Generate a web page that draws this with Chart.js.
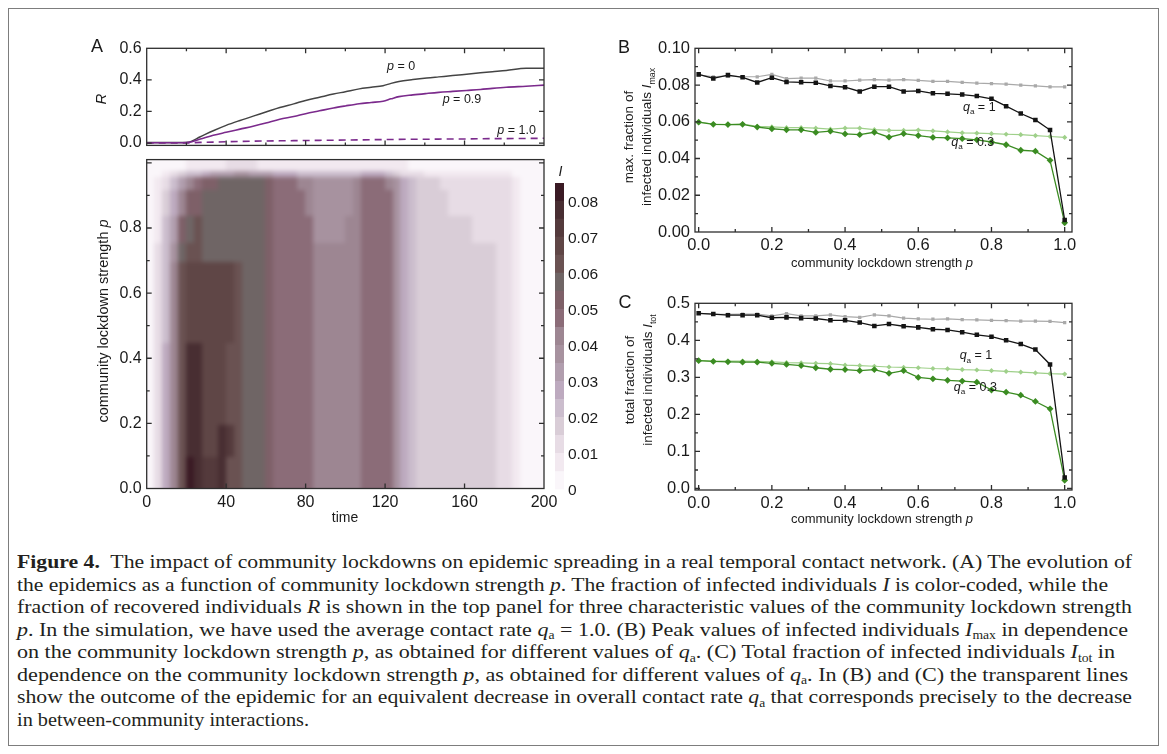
<!DOCTYPE html>
<html><head><meta charset="utf-8">
<script src="https://cdn.jsdelivr.net/npm/chart.js@4.4.1/dist/chart.umd.min.js"></script>
<style>
html,body{margin:0;padding:0;background:#fff;}
body{width:1167px;height:754px;overflow:hidden;position:relative;}
canvas.cv{position:absolute;}
#border{position:absolute;left:8px;top:8px;width:1151px;height:738px;border:1.5px solid #7d7d7d;box-sizing:border-box;}
.cap{position:absolute;left:17px;white-space:nowrap;font-family:"Liberation Serif","Times New Roman",serif;font-size:19px;line-height:22px;color:#231f20;transform-origin:0 50%;}
.cap sub{font-size:0.62em;vertical-align:baseline;position:relative;top:0.3em;line-height:0;}
</style></head><body>
<div id="border"></div>
<canvas id="cR" class="cv"></canvas>
<canvas id="cH" class="cv"></canvas>
<canvas id="cCb" class="cv"></canvas>
<canvas id="cB" class="cv"></canvas>
<canvas id="cC" class="cv"></canvas>
<div class="cap" style="top:551px"><b>Figure 4.</b>&nbsp; The impact of community lockdowns on epidemic spreading in a real temporal contact network. (A) The evolution of</div>
<div class="cap" style="top:573.5px">the epidemics as a function of community lockdown strength <i>p</i>. The fraction of infected individuals <i>I</i> is color-coded, while the</div>
<div class="cap" style="top:596px">fraction of recovered individuals <i>R</i> is shown in the top panel for three characteristic values of the community lockdown strength</div>
<div class="cap" style="top:618.5px"><i>p</i>. In the simulation, we have used the average contact rate <i>q</i><sub>a</sub> = 1.0. (B) Peak values of infected individuals <i>I</i><sub>max</sub> in dependence</div>
<div class="cap" style="top:641px">on the community lockdown strength <i>p</i>, as obtained for different values of <i>q</i><sub>a</sub>. (C) Total fraction of infected individuals <i>I</i><sub>tot</sub> in</div>
<div class="cap" style="top:663.5px">dependence on the community lockdown strength <i>p</i>, as obtained for different values of <i>q</i><sub>a</sub>. In (B) and (C) the transparent lines</div>
<div class="cap" style="top:686px">show the outcome of the epidemic for an equivalent decrease in overall contact rate <i>q</i><sub>a</sub> that corresponds precisely to the decrease</div>
<div class="cap" style="top:708.5px">in between-community interactions.</div>
<script>
// ================= DATA =================
// Panel A (top): recovered fraction R vs time
const timeR  = [0, 10, 18, 21, 27, 33.5, 40, 47, 54, 60, 67, 74, 80, 87, 94, 100, 107, 113, 119, 123, 127, 134, 141, 147, 154, 161, 168, 174, 181, 191, 200];
const R_p0   = [0.003,0.003,0.003,0.005,0.040,0.078,0.112,0.143,0.172,0.196,0.225,0.248,0.270,0.290,0.310,0.325,0.343,0.353,0.363,0.378,0.390,0.402,0.412,0.419,0.427,0.436,0.445,0.452,0.460,0.474,0.474];
const R_p09  = [0.002,0.002,0.002,0.004,0.025,0.049,0.068,0.088,0.108,0.127,0.151,0.168,0.186,0.204,0.222,0.235,0.249,0.257,0.265,0.280,0.294,0.305,0.314,0.321,0.327,0.333,0.339,0.346,0.353,0.360,0.367];
const R_p10  = [0,0,0,0.001,0.004,0.006,0.008,0.010,0.012,0.013,0.014,0.015,0.016,0.017,0.018,0.019,0.020,0.021,0.022,0.022,0.023,0.024,0.024,0.025,0.026,0.026,0.027,0.028,0.028,0.029,0.030];

// Panel A (map): infected fraction I on a (time, p) grid
const heatTimeEdges = [0,4,8,12,16,20,24,28,32,36,40,44,48,52,56,60,64,68,72,76,80,84,88,92,96,100,104,108,112,116,120,124,128,132,136,140,144,148,152,156,160,164,168,172,176,180,184,188,192,196,200];
const heatPEdges = [0, 0.1, 0.2, 0.3, 0.45, 0.55, 0.7, 0.76, 0.84, 0.92, 0.96, 0.98, 1.0];
const I_p000 = [0.003,0.012,0.026,0.043,0.064,0.080,0.077,0.071,0.074,0.075,0.063,0.061,0.058,0.057,0.057,0.052,0.048,0.048,0.048,0.047,0.047,0.042,0.042,0.042,0.042,0.041,0.044,0.047,0.049,0.049,0.046,0.037,0.027,0.021,0.018,0.018,0.018,0.018,0.018,0.018,0.018,0.018,0.018,0.018,0.014,0.012,0.007,0.003,0.001,0];
const I_p010 = [0.003,0.012,0.026,0.043,0.064,0.077,0.076,0.066,0.069,0.076,0.070,0.061,0.058,0.057,0.057,0.052,0.048,0.048,0.048,0.047,0.047,0.042,0.042,0.042,0.042,0.041,0.044,0.047,0.049,0.049,0.046,0.037,0.027,0.021,0.018,0.018,0.018,0.018,0.018,0.018,0.018,0.018,0.018,0.018,0.014,0.012,0.007,0.003,0.001,0];
const I_p020 = [0.003,0.012,0.026,0.043,0.064,0.077,0.076,0.069,0.069,0.068,0.064,0.061,0.058,0.057,0.057,0.052,0.048,0.048,0.048,0.047,0.047,0.042,0.042,0.042,0.042,0.041,0.044,0.047,0.049,0.049,0.046,0.037,0.027,0.021,0.018,0.018,0.018,0.018,0.018,0.018,0.018,0.018,0.018,0.018,0.014,0.012,0.007,0.003,0.001,0];
const I_p030 = [0.003,0.012,0.026,0.043,0.064,0.076,0.075,0.069,0.068,0.068,0.063,0.060,0.058,0.057,0.057,0.052,0.048,0.047,0.046,0.047,0.047,0.042,0.042,0.042,0.042,0.041,0.044,0.047,0.049,0.049,0.046,0.037,0.027,0.021,0.018,0.018,0.018,0.018,0.018,0.018,0.018,0.018,0.018,0.018,0.014,0.012,0.007,0.003,0.001,0];
const I_p045 = [0.003,0.011,0.024,0.040,0.060,0.067,0.066,0.066,0.065,0.069,0.066,0.060,0.058,0.057,0.057,0.052,0.048,0.048,0.048,0.047,0.047,0.042,0.042,0.042,0.042,0.041,0.044,0.047,0.049,0.049,0.046,0.037,0.027,0.021,0.018,0.018,0.018,0.018,0.018,0.018,0.018,0.018,0.018,0.018,0.014,0.012,0.007,0.003,0.001,0];
const I_p055 = [0.003,0.011,0.024,0.040,0.060,0.066,0.066,0.066,0.066,0.069,0.066,0.060,0.058,0.057,0.057,0.052,0.048,0.048,0.048,0.047,0.046,0.042,0.042,0.042,0.042,0.041,0.044,0.047,0.049,0.049,0.046,0.037,0.027,0.021,0.018,0.018,0.018,0.018,0.018,0.018,0.018,0.018,0.018,0.018,0.014,0.012,0.007,0.003,0.001,0];
const I_p070 = [0.003,0.010,0.022,0.037,0.055,0.062,0.062,0.058,0.057,0.057,0.057,0.057,0.057,0.057,0.056,0.052,0.048,0.048,0.048,0.047,0.046,0.041,0.041,0.041,0.041,0.041,0.044,0.047,0.049,0.049,0.046,0.037,0.027,0.021,0.018,0.018,0.018,0.018,0.018,0.018,0.018,0.018,0.018,0.016,0.014,0.012,0.007,0.003,0.001,0];
const I_p076 = [0.002,0.009,0.020,0.034,0.050,0.058,0.060,0.057,0.057,0.057,0.057,0.057,0.057,0.057,0.056,0.052,0.048,0.048,0.047,0.047,0.046,0.039,0.038,0.038,0.039,0.040,0.044,0.047,0.049,0.049,0.046,0.037,0.027,0.021,0.018,0.018,0.018,0.018,0.018,0.018,0.018,0.014,0.013,0.013,0.013,0.012,0.007,0.003,0.001,0];
const I_p084 = [0.002,0.007,0.016,0.028,0.042,0.050,0.054,0.056,0.057,0.057,0.057,0.057,0.057,0.057,0.056,0.052,0.048,0.047,0.046,0.045,0.044,0.038,0.038,0.038,0.038,0.039,0.044,0.047,0.049,0.049,0.046,0.037,0.027,0.021,0.018,0.018,0.018,0.017,0.014,0.013,0.013,0.013,0.013,0.013,0.013,0.012,0.007,0.003,0.001,0];
const I_p092 = [0.002,0.005,0.012,0.022,0.034,0.042,0.047,0.050,0.053,0.055,0.056,0.056,0.056,0.056,0.055,0.051,0.047,0.046,0.045,0.044,0.042,0.037,0.037,0.037,0.037,0.038,0.043,0.047,0.048,0.048,0.044,0.035,0.026,0.020,0.017,0.017,0.017,0.014,0.013,0.013,0.013,0.013,0.013,0.013,0.012,0.010,0.006,0.002,0.001,0];
const I_p096 = [0.001,0.003,0.006,0.010,0.015,0.020,0.024,0.027,0.030,0.032,0.034,0.035,0.035,0.034,0.032,0.030,0.027,0.026,0.025,0.024,0.023,0.022,0.021,0.021,0.021,0.021,0.022,0.025,0.027,0.027,0.024,0.018,0.014,0.011,0.010,0.009,0.009,0.009,0.008,0.008,0.008,0.008,0.008,0.007,0.006,0.005,0.003,0.001,0,0];
const I_p098 = [0.001,0.001,0.002,0.003,0.004,0.005,0.006,0.007,0.008,0.009,0.010,0.011,0.011,0.010,0.009,0.008,0.007,0.007,0.007,0.006,0.006,0.006,0.006,0.006,0.006,0.006,0.007,0.008,0.009,0.009,0.008,0.006,0.005,0.004,0.004,0.004,0.004,0.004,0.004,0.004,0.004,0.004,0.004,0.003,0.003,0.002,0.001,0,0,0];

// colour scale of I
const colorLevels = [0,0.005,0.01,0.015,0.02,0.025,0.03,0.035,0.04,0.045,0.05,0.055,0.06,0.065,0.07,0.075,0.08,0.085];
const colorbarColors = ['#faf6fa','#f2e9f0','#e7dce5','#d9cdd7','#cbbdcd','#bdaabf','#b19eae','#a7929f','#9d8692','#8b6c78','#7e6068','#6f6565','#6a5252','#5f4646','#543a3c','#482e32','#3a1a24'];
const colorbarTicks = [0,0.01,0.02,0.03,0.04,0.05,0.06,0.07,0.08];

// Panels B and C: lockdown strength p
const lockdownP = [0,0.04,0.08,0.12,0.16,0.2,0.24,0.28,0.32,0.36,0.4,0.44,0.48,0.52,0.56,0.6,0.64,0.68,0.72,0.76,0.8,0.84,0.88,0.92,0.96,1.0];
const Imax_qa1        = [0.0858,0.0836,0.0854,0.0842,0.0814,0.0840,0.0817,0.0815,0.0813,0.0795,0.0788,0.0765,0.0791,0.0791,0.0765,0.0768,0.0755,0.0752,0.0748,0.0740,0.0725,0.0685,0.0645,0.0610,0.0555,0.0065];
const Imax_qa1_equiv  = [0.0855,0.0845,0.0850,0.0845,0.0845,0.0858,0.0835,0.0838,0.0838,0.0822,0.0822,0.0827,0.0830,0.0827,0.0830,0.0825,0.0820,0.0820,0.0815,0.0810,0.0808,0.0805,0.0800,0.0795,0.0790,0.0790];
const Imax_qa03       = [0.0598,0.0586,0.0585,0.0586,0.0571,0.0562,0.0556,0.0556,0.0542,0.0549,0.0534,0.0530,0.0543,0.0516,0.0535,0.0525,0.0515,0.0512,0.0508,0.0502,0.0490,0.0475,0.0445,0.0440,0.0390,0.0050];
const Imax_qa03_equiv = [0.0598,0.0588,0.0585,0.0588,0.0575,0.0572,0.0568,0.0568,0.0565,0.0560,0.0565,0.0565,0.0557,0.0553,0.0553,0.0555,0.0550,0.0545,0.0540,0.0538,0.0535,0.0532,0.0530,0.0525,0.0520,0.0515];
const Itot_qa1        = [0.473,0.471,0.468,0.468,0.468,0.461,0.462,0.460,0.459,0.454,0.454,0.448,0.439,0.444,0.438,0.435,0.430,0.428,0.422,0.415,0.410,0.400,0.390,0.375,0.335,0.030];
const Itot_qa1_equiv  = [0.473,0.471,0.470,0.471,0.471,0.466,0.472,0.466,0.466,0.469,0.464,0.462,0.469,0.466,0.460,0.458,0.457,0.458,0.456,0.455,0.454,0.453,0.452,0.452,0.451,0.448];
const Itot_qa03       = [0.345,0.343,0.342,0.341,0.341,0.338,0.335,0.332,0.326,0.322,0.321,0.318,0.321,0.311,0.318,0.300,0.296,0.292,0.290,0.287,0.266,0.260,0.252,0.235,0.215,0.022];
const Itot_qa03_equiv = [0.345,0.344,0.344,0.344,0.343,0.342,0.340,0.339,0.338,0.337,0.333,0.332,0.330,0.328,0.327,0.326,0.324,0.323,0.321,0.320,0.318,0.316,0.314,0.312,0.310,0.309];

// ================= HELPERS =================
Chart.defaults.animation = false;
Chart.defaults.font.family = '"Liberation Sans", Arial, Helvetica, sans-serif';
Chart.defaults.color = '#1a1a1a';
Chart.defaults.plugins.legend.display = false;
Chart.defaults.plugins.tooltip.enabled = false;
const FF = '"Liberation Sans", Arial, Helvetica, sans-serif';

function fontStr(size, st){ return (st.includes('i')?'italic ':'') + (st.includes('b')?'bold ':'') + size + 'px ' + FF; }
function drawRich(ctx, x, y, parts, o){
  o = o || {};
  const size = o.size || 14, align = o.align || 'center', rot = o.rotate || 0;
  ctx.save(); ctx.translate(x, y); ctx.rotate(rot);
  ctx.fillStyle = o.color || '#1a1a1a'; ctx.textBaseline = 'alphabetic'; ctx.textAlign = 'left';
  const ws = []; let total = 0;
  parts.forEach(([t, st='']) => { const s = st.includes('s') ? size*0.65 : size; ctx.font = fontStr(s, st); const w = ctx.measureText(t).width; ws.push(w); total += w; });
  let cx = align === 'center' ? -total/2 : (align === 'right' ? -total : 0);
  const base = size*0.36;
  parts.forEach(([t, st=''], i) => { const sub = st.includes('s'); const s = sub ? size*0.65 : size; ctx.font = fontStr(s, st); ctx.fillText(t, cx, base + (sub ? size*0.28 : 0)); cx += ws[i]; });
  ctx.restore();
}
function mids(a){ const r=[]; for(let i=0;i<a.length-1;i++) r.push((a[i]+a[i+1])/2); return r; }
function framePlugin(o){
  return { id:'frame', afterDatasetsDraw(chart){
    const {ctx, chartArea:a} = chart; const xs = chart.scales.x, ys = chart.scales.y;
    ctx.save(); ctx.strokeStyle = '#2e2e2e'; ctx.lineWidth = 1.3;
    ctx.strokeRect(a.left, a.top, a.right-a.left, a.bottom-a.top);
    ctx.beginPath();
    const majX = xs.ticks.map(t=>t.value), majY = ys.ticks.map(t=>t.value);
    const doX = (vals, len) => vals.forEach(v => { const p = xs.getPixelForValue(v); if (p < a.left+1 || p > a.right-1) return;
      if (o.bottom !== false) { ctx.moveTo(p, a.bottom); ctx.lineTo(p, a.bottom-len); }
      if (o.top !== false) { ctx.moveTo(p, a.top); ctx.lineTo(p, a.top+len); } });
    const doY = (vals, len) => vals.forEach(v => { const p = ys.getPixelForValue(v); if (p < a.top+1 || p > a.bottom-1) return;
      ctx.moveTo(a.left, p); ctx.lineTo(a.left+len, p);
      if (o.right !== false) { ctx.moveTo(a.right, p); ctx.lineTo(a.right-len, p); } });
    doX(majX, 5); if (o.minorX) doX(mids(majX), 3);
    doY(majY, 5); if (o.minorY) doY(mids(majY), 3);
    ctx.stroke(); ctx.restore();
  }};
}
function makeChart(id, box, target, config, labelFn){
  const cv = document.getElementById(id);
  cv.width = box.w; cv.height = box.h;
  Object.assign(cv.style, {left: box.x+'px', top: box.y+'px', width: box.w+'px', height: box.h+'px'});
  config.options.responsive = false;
  config.options.maintainAspectRatio = false;
  config.options.devicePixelRatio = 1;
  let pad = {left:0, right:0, top:0, bottom:0};
  config.options.layout = {padding: pad};
  config.plugins = config.plugins || [];
  if (labelFn) config.plugins.push({ id:'labels', afterDraw(chart){ labelFn(chart.ctx, chart, (x,y)=>[x-box.x, y-box.y]); } });
  const ch = new Chart(cv, config);
  for (let i=0;i<4;i++){
    const a = ch.chartArea;
    pad = { left: pad.left + (target.left-box.x - a.left), right: pad.right + (a.right - (target.right-box.x)),
            top: pad.top + (target.top-box.y - a.top), bottom: pad.bottom + (a.bottom - (target.bottom-box.y)) };
    ch.options.layout.padding = pad; ch.update('none');
  }
  return ch;
}
const tickFontA = {size: 16};
const tickFontB = {size: 16.5};
function linAxis(extra){
  return Object.assign({ type:'linear', grid:{display:false, drawTicks:false}, border:{display:false} }, extra);
}

// ================= PANEL A: R(t) =================
makeChart('cR', {x:50, y:18, w:520, h:142}, {left:146.7, right:544, top:48.3, bottom:152.3}, {
  type:'line',
  data:{ datasets:[
    { data: timeR.map((t,i)=>({x:t, y:R_p09[i]})), borderColor:'#7b2a8c', borderWidth:1.6, pointRadius:0, cubicInterpolationMode:'monotone', order:0 },
    { data: timeR.map((t,i)=>({x:t, y:R_p0[i]})), borderColor:'#444444', borderWidth:1.5, pointRadius:0, cubicInterpolationMode:'monotone', order:1 },
    { data: timeR.map((t,i)=>({x:t, y:R_p10[i]})), borderColor:'#7b2a8c', borderWidth:1.6, borderDash:[7,5], pointRadius:0, order:2 }
  ]},
  options:{ scales:{
    x: linAxis({min:0, max:200, ticks:{stepSize:40, display:false}}),
    y: linAxis({min:-0.015, max:0.6, ticks:{stepSize:0.2, includeBounds:false, padding:5, font:tickFontA, callback:v=>v.toFixed(1)}})
  }},
  plugins:[framePlugin({minorX:true})]
}, (ctx, ch, pg) => {
  const xs = ch.scales.x, ys = ch.scales.y;
  drawRich(ctx, ...pg(97,46), [['A']], {size:18});
  drawRich(ctx, ...pg(101,99), [['R','i']], {size:15, rotate:-Math.PI/2});
  drawRich(ctx, xs.getPixelForValue(121), ys.getPixelForValue(0.488), [['p','i'],[' = 0']], {size:12.5, align:'left'});
  drawRich(ctx, xs.getPixelForValue(149), ys.getPixelForValue(0.282), [['p','i'],[' = 0.9']], {size:12.5, align:'left'});
  drawRich(ctx, xs.getPixelForValue(176.5), ys.getPixelForValue(0.088), [['p','i'],[' = 1.0']], {size:12.5, align:'left'});
});

// ================= PANEL A: I(t,p) map =================
const heatRows = [I_p000, I_p010, I_p020, I_p030, I_p045, I_p055, I_p070, I_p076, I_p084, I_p092, I_p096, I_p098];
function colorFor(v){ let k = 0; for (let i=0;i<colorbarColors.length;i++) if (v >= colorLevels[i]-1e-9) k = i; return colorbarColors[k]; }
const heatPlugin = { id:'heat', beforeDatasetsDraw(chart){
  const {ctx, chartArea:a} = chart; const xs = chart.scales.x, ys = chart.scales.y;
  const off = document.createElement('canvas'); off.width = chart.width; off.height = chart.height;
  const o = off.getContext('2d');
  heatRows.forEach((row, r) => {
    let yb = ys.getPixelForValue(heatPEdges[r]), yt = ys.getPixelForValue(heatPEdges[r+1]);
    if (r === 0) yb += 8; if (r === heatRows.length-1) yt -= 8;
    row.forEach((v, c) => {
      let x0 = xs.getPixelForValue(heatTimeEdges[c]), x1 = xs.getPixelForValue(heatTimeEdges[c+1]);
      if (c === 0) x0 -= 8; if (c === row.length-1) x1 += 8;
      o.fillStyle = colorFor(v);
      o.fillRect(Math.floor(x0), Math.floor(yt), Math.ceil(x1)-Math.floor(x0)+1, Math.ceil(yb)-Math.floor(yt)+1);
    });
  });
  ctx.save(); ctx.beginPath(); ctx.rect(a.left, a.top, a.right-a.left, a.bottom-a.top); ctx.clip();
  ctx.filter = 'blur(2.2px)'; ctx.drawImage(off, 0, 0); ctx.restore();
}};
makeChart('cH', {x:50, y:145, w:520, h:400}, {left:146.7, right:544, top:152, bottom:488.5}, {
  type:'scatter',
  data:{ datasets:[{ data:[] }]},
  options:{ scales:{
    x: linAxis({min:0, max:200, ticks:{stepSize:40, padding:4, font:tickFontA, maxRotation:0, callback:v=>String(v)}}),
    y: linAxis({min:0, max:1.01, ticks:{stepSize:0.2, includeBounds:false, padding:5, font:tickFontA, callback:v=> v>0.95 ? '' : v.toFixed(1)}})
  }},
  plugins:[heatPlugin, framePlugin({minorY:true, top:false})]
}, (ctx, ch, pg) => {
  drawRich(ctx, ...pg(103,321), [['community lockdown strength '],['p','i']], {size:14.5, rotate:-Math.PI/2});
  drawRich(ctx, ...pg(345,517), [['time']], {size:14});
});

// ================= Colour bar =================
makeChart('cCb', {x:545, y:158, w:80, h:347}, {left:555, right:564, top:183, bottom:489.5}, {
  type:'bar',
  data:{ labels:['I'], datasets: colorbarColors.map((c,k)=>({ data:[[colorLevels[k], colorLevels[k+1]]], backgroundColor:c, borderWidth:0, grouped:false, barPercentage:1, categoryPercentage:1 })) },
  options:{ scales:{
    x:{ display:false },
    y: linAxis({position:'right', min:0, max:0.085, ticks:{display:false}})
  }}
}, (ctx, ch, pg) => {
  const a = ch.chartArea, ys = ch.scales.y;
  drawRich(ctx, (a.left+a.right)/2 + 1, pg(0,171)[1], [['I','i']], {size:14});
  colorbarTicks.forEach(v => drawRich(ctx, a.right + 4, ys.getPixelForValue(v), [[v === 0 ? '0' : v.toFixed(2)]], {size:15.5, align:'left'}));
});

// ================= Panels B and C =================
function lockSets(solid1, eq1, solid03, eq03){
  const mk = arr => lockdownP.map((p,i)=>({x:p, y:arr[i]}));
  return [
    { data: mk(solid1), borderColor:'#141414', backgroundColor:'#141414', borderWidth:1.3, pointStyle:'rect', pointRadius:3.2, pointBorderWidth:0, order:1 },
    { data: mk(solid03), borderColor:'#3b8c22', backgroundColor:'#3b8c22', borderWidth:1.3, pointStyle:'rectRot', pointRadius:3.4, pointBorderWidth:0, order:1 },
    { data: mk(eq1), borderColor:'#a9a9a9', backgroundColor:'#a9a9a9', borderWidth:1.2, pointStyle:'rect', pointRadius:2.3, pointBorderWidth:0, order:2 },
    { data: mk(eq03), borderColor:'#9fd08a', backgroundColor:'#9fd08a', borderWidth:1.2, pointStyle:'rectRot', pointRadius:2.6, pointBorderWidth:0, order:2 }
  ];
}
const xLock = () => linAxis({min:-0.01, max:1.02, ticks:{stepSize:0.2, includeBounds:false, padding:4, font:tickFontB, maxRotation:0, callback:v=>v.toFixed(1)}});
makeChart('cB', {x:585, y:18, w:510, h:264}, {left:695, right:1072, top:48.3, bottom:232}, {
  type:'line',
  data:{ datasets: lockSets(Imax_qa1, Imax_qa1_equiv, Imax_qa03, Imax_qa03_equiv) },
  options:{ scales:{ x: xLock(), y: linAxis({min:0, max:0.1, ticks:{stepSize:0.02, includeBounds:false, padding:5, font:tickFontB, callback:v=>v.toFixed(2)}}) }},
  plugins:[framePlugin({minorX:true, minorY:true})]
}, (ctx, ch, pg) => {
  const xs = ch.scales.x, ys = ch.scales.y;
  drawRich(ctx, ...pg(624,47), [['B']], {size:18});
  drawRich(ctx, ...pg(628,137), [['max. fraction of']], {size:13.5, rotate:-Math.PI/2});
  drawRich(ctx, ...pg(646,137), [['infected individuals '],['I','i'],['max','s']], {size:13.5, rotate:-Math.PI/2});
  drawRich(ctx, ...pg(882,262), [['community lockdown strength '],['p','i']], {size:13});
  drawRich(ctx, xs.getPixelForValue(0.722), ys.getPixelForValue(0.0685), [['q','i'],['a','s'],[' = 1']], {size:12.5, align:'left'});
  drawRich(ctx, xs.getPixelForValue(0.690), ys.getPixelForValue(0.0495), [['q','i'],['a','s'],[' = 0.3']], {size:12.5, align:'left'});
});
makeChart('cC', {x:585, y:282, w:510, h:246}, {left:695, right:1072, top:303.3, bottom:490}, {
  type:'line',
  data:{ datasets: lockSets(Itot_qa1, Itot_qa1_equiv, Itot_qa03, Itot_qa03_equiv) },
  options:{ scales:{ x: xLock(), y: linAxis({min:-0.004, max:0.5, ticks:{stepSize:0.1, includeBounds:false, padding:5, font:tickFontB, callback:v=>v.toFixed(1)}}) }},
  plugins:[framePlugin({minorX:true, minorY:true})]
}, (ctx, ch, pg) => {
  const xs = ch.scales.x, ys = ch.scales.y;
  drawRich(ctx, ...pg(625,302), [['C']], {size:18});
  drawRich(ctx, ...pg(629,380), [['total fraction of']], {size:13.5, rotate:-Math.PI/2});
  drawRich(ctx, ...pg(647,380), [['infected individuals '],['I','i'],['tot','s']], {size:13.5, rotate:-Math.PI/2});
  drawRich(ctx, ...pg(882,518), [['community lockdown strength '],['p','i']], {size:13});
  drawRich(ctx, xs.getPixelForValue(0.713), ys.getPixelForValue(0.361), [['q','i'],['a','s'],[' = 1']], {size:12.5, align:'left'});
  drawRich(ctx, xs.getPixelForValue(0.697), ys.getPixelForValue(0.276), [['q','i'],['a','s'],[' = 0.3']], {size:12.5, align:'left'});
});

// ================= caption line widths =================
const captionRight = [1132, 1108, 1132, 1128, 1115, 1128, 1132, 309];
document.querySelectorAll('.cap').forEach((el, i) => {
  const w = el.getBoundingClientRect().width;
  el.style.transform = 'scaleX(' + ((captionRight[i] - 17) / w).toFixed(4) + ')';
});
</script>
</body></html>
